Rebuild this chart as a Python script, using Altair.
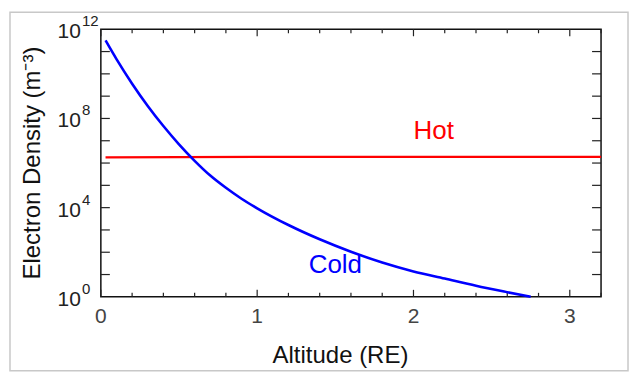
import altair as alt
import pandas as pd

# ---- data ----
cold_altitude = [0.03, 0.1, 0.2, 0.3, 0.4, 0.5, 0.6, 0.7, 0.8, 0.9, 1.0,
                 1.2, 1.4, 1.6, 1.8, 2.0, 2.2, 2.4, 2.6, 2.75]
cold_density = [3.16e11, 4.57e10, 3.63e9, 3.63e8, 4.57e7, 6.92e6, 1.26e6,
                2.75e5, 7.76e4, 2.51e4, 9.33e3, 1.66e3, 380, 105, 34.7, 13.8,
                6.61, 3.16, 1.62, 1.0]

hot_altitude = [0.03, 0.5, 1.0, 2.0, 3.2]
hot_density = [1.78e6, 1.86e6, 1.90e6, 1.90e6, 1.90e6]

label_text = ["Hot", "Cold"]
label_altitude = [2.13, 1.50]
label_density = [1.15e7, 11.5]
label_color = ["#ff0000", "#0000ff"]

x_major = [0, 1, 2, 3]
x_major_labels = ["0", "1", "2", "3"]
x_minor = [0.2, 0.4, 0.6, 0.8, 1.2, 1.4, 1.6, 1.8, 2.2, 2.4, 2.6, 2.8, 3.2]
y_ticks = [1e1, 1e2, 1e3, 1e4, 1e5, 1e6, 1e7, 1e8, 1e9, 1e10, 1e11]
y_label_values = [1e0, 1e4, 1e8, 1e12]
y_label_exps = ["0", "4", "8", "12"]

x_title = ["Altitude (RE)"]
y_title = ["Electron Density (m⁻³)"]

W, H = 501, 268
FONT = "Liberation Sans"

xs = alt.Scale(domain=[0, 3.2], nice=False, zero=False)
ys = alt.Scale(type="log", domain=[1, 1e12], nice=False)

cold_df = pd.DataFrame({"alt": cold_altitude, "n": cold_density})
hot_df = pd.DataFrame({"alt": hot_altitude, "n": hot_density})
lab_df = pd.DataFrame({"alt": label_altitude, "n": label_density,
                       "t": label_text, "c": label_color})
xmaj_df = pd.DataFrame({"alt": x_major, "t": x_major_labels})
xmin_df = pd.DataFrame({"alt": x_minor})
ytk_df = pd.DataFrame({"n": y_ticks})
ylab_df = pd.DataFrame({"n": y_label_values, "e": y_label_exps})
xt_df = pd.DataFrame({"t": x_title})
yt_df = pd.DataFrame({"t": y_title})
one = pd.DataFrame({"a": [0]})

# decorative card border around the figure
card = alt.Chart(one).mark_rect(fillOpacity=0, stroke="#c8c8c8", strokeWidth=1.5).encode(
    x=alt.value(-91), x2=alt.value(528), y=alt.value(-17), y2=alt.value(342))

cold = alt.Chart(cold_df).mark_line(color="#0000ff", strokeWidth=2.6, interpolate="monotone").encode(
    x=alt.X("alt:Q", scale=xs, axis=None), y=alt.Y("n:Q", scale=ys, axis=None))

hot = alt.Chart(hot_df).mark_line(color="#ff0000", strokeWidth=2.2).encode(
    x=alt.X("alt:Q", scale=xs, axis=None), y=alt.Y("n:Q", scale=ys, axis=None))

labels = alt.Chart(lab_df).mark_text(font=FONT, fontSize=26, align="center", baseline="alphabetic").encode(
    x=alt.X("alt:Q", scale=xs, axis=None), y=alt.Y("n:Q", scale=ys, axis=None),
    text="t:N", color=alt.Color("c:N", scale=None))

tick_color = "#222222"
xmaj_b = alt.Chart(xmaj_df).mark_rule(color=tick_color, strokeWidth=1.2).encode(
    x=alt.X("alt:Q", scale=xs, axis=None), y=alt.value(H), y2=alt.value(H - 7))
xmaj_t = alt.Chart(xmaj_df).mark_rule(color=tick_color, strokeWidth=1.2).encode(
    x=alt.X("alt:Q", scale=xs, axis=None), y=alt.value(0), y2=alt.value(7))
xmin_b = alt.Chart(xmin_df).mark_rule(color=tick_color, strokeWidth=1.2).encode(
    x=alt.X("alt:Q", scale=xs, axis=None), y=alt.value(H), y2=alt.value(H - 4))
xmin_t = alt.Chart(xmin_df).mark_rule(color=tick_color, strokeWidth=1.2).encode(
    x=alt.X("alt:Q", scale=xs, axis=None), y=alt.value(0), y2=alt.value(4))
y_l = alt.Chart(ytk_df).mark_rule(color=tick_color, strokeWidth=1.2).encode(
    y=alt.Y("n:Q", scale=ys, axis=None), x=alt.value(0), x2=alt.value(9))
y_r = alt.Chart(ytk_df).mark_rule(color=tick_color, strokeWidth=1.2).encode(
    y=alt.Y("n:Q", scale=ys, axis=None), x=alt.value(W), x2=alt.value(W - 9))

# tick labels
xlab = alt.Chart(xmaj_df).mark_text(font=FONT, fontSize=21, align="center", baseline="top",
                                    color="#444444").encode(
    x=alt.X("alt:Q", scale=xs, axis=None), y=alt.value(H + 9), text="t:N")
ylab_base = alt.Chart(ylab_df).mark_text(font=FONT, fontSize=21, align="right", baseline="middle",
                                         dy=3, color="#222222").encode(
    y=alt.Y("n:Q", scale=ys, axis=None), x=alt.value(-20), text=alt.value("10"))
ylab_exp = alt.Chart(ylab_df).mark_text(font=FONT, fontSize=15, align="left", baseline="middle",
                                        dy=-8, color="#222222").encode(
    y=alt.Y("n:Q", scale=ys, axis=None), x=alt.value(-19), text="e:N")

# axis titles
xtitle = alt.Chart(xt_df).mark_text(font=FONT, fontSize=24, align="center", baseline="alphabetic",
                                    color="#111111").encode(
    x=alt.value(240), y=alt.value(H + 66), text="t:N")
ytitle = alt.Chart(yt_df).mark_text(font=FONT, fontSize=24, align="center", baseline="alphabetic",
                                    angle=270, color="#111111").encode(
    x=alt.value(-61), y=alt.value(H / 2), text="t:N")

chart = alt.layer(card, xmaj_b, xmaj_t, xmin_b, xmin_t, y_l, y_r, hot, cold, labels,
                  xlab, ylab_base, ylab_exp, xtitle, ytitle).properties(
    width=W, height=H,
    autosize=alt.AutoSizeParams(type="none"),
    padding={"left": 93, "top": 21, "right": 30, "bottom": 80},
).configure_view(stroke="#111111", strokeWidth=1.5)

chart.save("out.html", embed_options={"renderer": "svg", "actions": False})
